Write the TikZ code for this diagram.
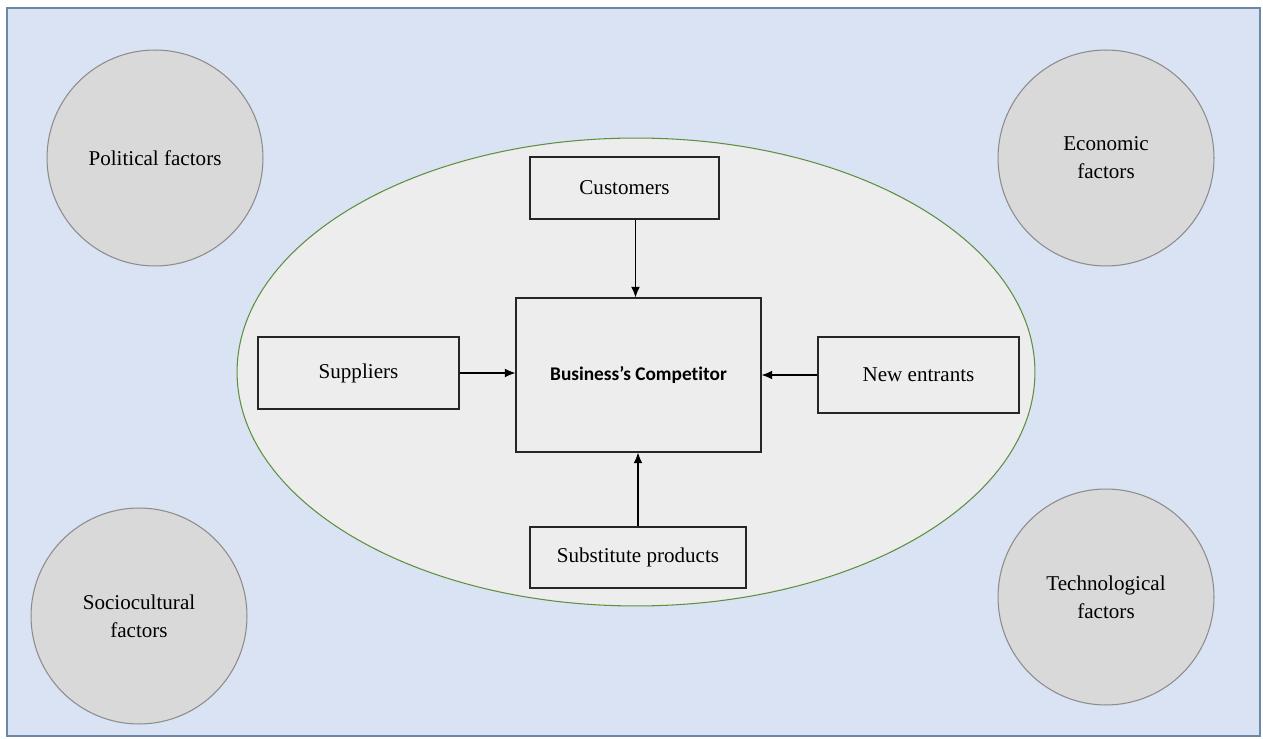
\documentclass[tikz,border=0pt]{standalone}
\usepackage{fontspec}
\setmainfont{Liberation Serif}
\newfontfamily\calibri[Ligatures=NoCommon]{Carlito}
\usetikzlibrary{arrows.meta, positioning, shapes.geometric}
\definecolor{pagebg}{HTML}{DAE3F3}
\definecolor{pageedge}{HTML}{6A88A8}
\definecolor{factorfill}{HTML}{D9D9D9}
\definecolor{factoredge}{HTML}{8C8C8C}
\definecolor{marketfill}{HTML}{EDEDED}
\definecolor{marketedge}{HTML}{5E9040}
\tikzset{
  factor/.style={circle, fill=factorfill, draw=factoredge, line width=0.6pt,
    minimum size=4.32cm, align=center, font=\fontsize{12}{15.8}\selectfont},
  force/.style={rectangle, fill=marketfill, draw=black!85, line width=0.7pt,
    align=center, font=\fontsize{12}{15}\selectfont},
  push/.style={-{Latex[length=6pt, width=5pt]}, line width=0.6pt},
}
\begin{document}
\begin{tikzpicture}[x=0.02cm, y=-0.02cm]
  \useasboundingbox (0,0) rectangle (1263,739);
  % page background
  \draw[fill=pagebg, draw=pageedge, line width=0.6pt] (7,8) rectangle (1260,736);
  % PEST factors in the corners
  \node[factor] (pol) at (155,158) {Political factors};
  \node[factor] (eco) at (1106,158) {Economic\\factors};
  \node[factor] (soc) at (139,616) {Sociocultural\\factors};
  \node[factor] (tec) at (1106,597) {Technological\\factors};
  % competitive environment
  \node[ellipse, fill=marketfill, draw=marketedge, line width=0.6pt,
    minimum width=15.96cm, minimum height=9.36cm] (market) at (636,372) {};
  \node[force, minimum width=4.9cm, minimum height=3.08cm,
    font=\calibri\bfseries\fontsize{11}{13}\selectfont] (comp) at (638.5,375) {Business’s Compet\kern0pt itor};
  \node[force, minimum width=3.78cm, minimum height=1.24cm] (cust) at (624.5,188) {Customers};
  \node[force, minimum width=4.02cm, minimum height=1.44cm] (supp) at (358.5,373) {Suppliers};
  \node[force, minimum width=4.02cm, minimum height=1.52cm] (entr) at (918.5,375) {New entrants};
  \node[force, minimum width=4.32cm, minimum height=1.22cm] (subs) at (638,557.5) {Substitute products};
  % forces acting on the competitor
  \draw[push] ([xshift=-0.06cm]cust.south -| comp.north) -- ([xshift=-0.06cm]comp.north);
  \draw[push] (supp.east) -- (supp.east -| comp.west);
  \draw[push] (entr.west) -- (entr.west -| comp.east);
  \draw[push] (subs.north) -- (subs.north |- comp.south);
\end{tikzpicture}
\end{document}
